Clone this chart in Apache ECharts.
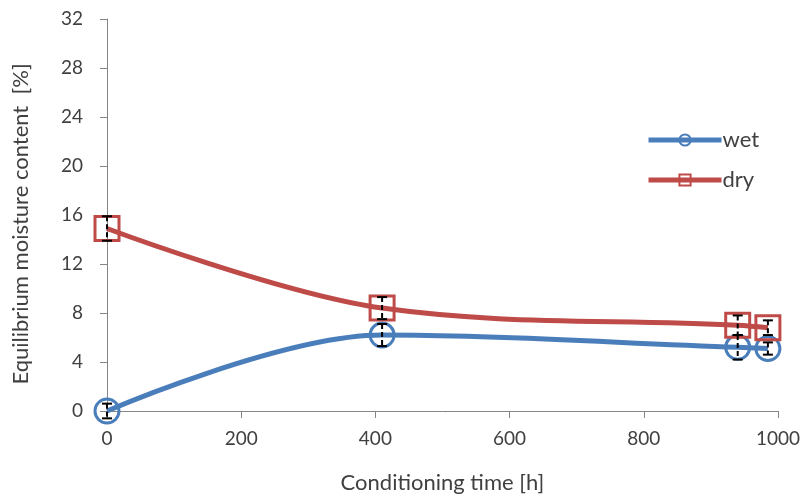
<!DOCTYPE html>
<html>
<head>
<meta charset="utf-8">
<script src="https://cdn.jsdelivr.net/npm/echarts@6/dist/echarts.min.js"></script>
<style>html,body{margin:0;padding:0;background:#fff;}#c{width:803px;height:499px;}</style>
</head>
<body>
<div id="c"></div>
<script>
var timeH = [0, 410, 940, 985];
var wetVals = [0.0, 6.2, 5.2, 5.1];
var wetErr = [0.6, 0.9, 1.0, 0.5];
var dryVals = [14.9, 8.4, 7.0, 6.8];
var dryErr = [1.0, 0.9, 0.8, 0.6];
var xTicks = [0, 200, 400, 600, 800, 1000];
var yTicks = [0, 4, 8, 12, 16, 20, 24, 28, 32];

var BLUE = '#4a7ebb', RED = '#be4b48';
var FONT = 'Lato';

function pts(vals){ return timeH.map(function(t,i){ return [t, vals[i]]; }); }
function errPts(vals, errs){ return timeH.map(function(t,i){ return [t, vals[i], errs[i]]; }); }

function errRender(params, api){
  var x = api.value(0), y = api.value(1), e = api.value(2);
  var top = api.coord([x, y + e]);
  var bot = api.coord([x, y - e]);
  var cw = 5;
  var st = {stroke:'#000', lineWidth:2};
  return {type:'group', children:[
    {type:'line', shape:{x1:top[0], y1:top[1], x2:bot[0], y2:bot[1]}, style:{stroke:'#000', lineWidth:2, lineDash:[5,3]}},
    {type:'line', shape:{x1:top[0]-cw, y1:top[1], x2:top[0]+cw, y2:top[1]}, style:st},
    {type:'line', shape:{x1:bot[0]-cw, y1:bot[1], x2:bot[0]+cw, y2:bot[1]}, style:st}
  ]};
}

var chart = echarts.init(document.getElementById('c'), null, {renderer:'canvas'});
chart.setOption({
  animation:false,
  textStyle:{fontFamily:FONT},
  grid:{left:107, right:24, top:19, bottom:87},
  legend:{
    left:641, top:124, orient:'vertical', itemGap:18, itemWidth:73, itemHeight:14,
    textStyle:{fontSize:22, color:'#404040', fontFamily:FONT, padding:[0,0,0,-4]},
    lineStyle:{width:5},
    data:['wet','dry']
  },
  xAxis:{
    type:'value', min:0, max:1000, interval:200,
    name:'Conditioning time [h]', nameLocation:'middle', nameGap:61,
    nameTextStyle:{fontSize:22, color:'#404040'},
    axisLine:{lineStyle:{color:'#868686', width:1}},
    axisTick:{show:true, length:7, lineStyle:{color:'#868686'}},
    axisLabel:{fontSize:19, color:'#404040', margin:18, formatter:function(v){return String(v);}},
    splitLine:{show:false}
  },
  yAxis:{
    type:'value', min:0, max:32, interval:4,
    name:'Equilibrium moisture content  [%]', nameLocation:'middle', nameGap:75,
    nameTextStyle:{fontSize:22, color:'#404040', padding:[0,18,0,0]},
    axisLine:{show:true, lineStyle:{color:'#868686', width:1}},
    axisTick:{show:true, length:7, lineStyle:{color:'#868686'}},
    axisLabel:{fontSize:19, color:'#404040', margin:24},
    splitLine:{show:false}
  },
  series:[
    {name:'wet', type:'line', data:pts(wetVals), smooth:0.35,
     symbol:'circle', symbolSize:24,
     lineStyle:{color:BLUE, width:5}, itemStyle:{color:'rgba(0,0,0,0)', borderColor:BLUE, borderWidth:3}, z:2},
    {name:'dry', type:'line', data:pts(dryVals), smooth:0.35,
     symbol:'rect', symbolSize:24,
     lineStyle:{color:RED, width:5}, itemStyle:{color:'rgba(0,0,0,0)', borderColor:RED, borderWidth:3}, z:2},
    {name:'wetErr', type:'custom', data:errPts(wetVals, wetErr), renderItem:errRender, z:5, silent:true},
    {name:'dryErr', type:'custom', data:errPts(dryVals, dryErr), renderItem:errRender, z:5, silent:true}
  ]
});
</script>
</body>
</html>
